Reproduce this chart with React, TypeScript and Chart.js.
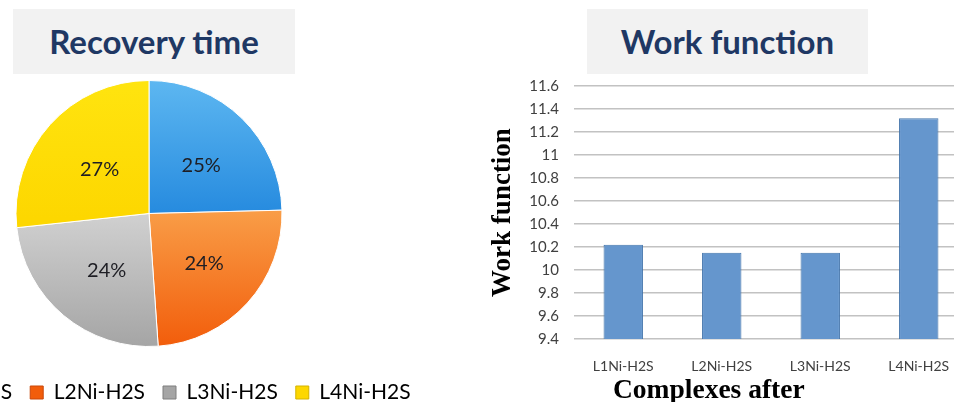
import React, { useEffect, useRef } from "react";
import { Chart, registerables } from "chart.js";

Chart.register(...registerables);

// ---- data ----
const pieLabels = ["L1Ni-H2S", "L2Ni-H2S", "L3Ni-H2S", "L4Ni-H2S"];
const recoveryShare = [24.6, 24.3, 24.4, 26.7];

const barCategories = ["L1Ni-H2S", "L2Ni-H2S", "L3Ni-H2S", "L4Ni-H2S"];
const workFunction = [10.22, 10.15, 10.15, 11.32];
const workTicks = [9.4, 9.6, 9.8, 10, 10.2, 10.4, 10.6, 10.8, 11, 11.2, 11.4, 11.6];

const pieTitle = "Recovery time";
const barTitle = "Work function";
const yAxisTitle = "Work function";
const xAxisTitle = "Complexes after";

// ---- styles ----
const sliceTop = ["#5db7f1", "#f99e48", "#d2d2d2", "#ffe40f"];
const sliceBottom = ["#2489de", "#f25d0b", "#a5a5a5", "#fdd700"];
const sliceEdge = ["#1f6fb5", "#c9480a", "#7f7f7f", "#d4b300"];
const PIE_R = 133;

const sliceFill = (c: any) => {
  const i = c.dataIndex ?? 0;
  const chart = c.chart;
  const area = chart.chartArea;
  if (!area) return sliceBottom[i];
  const cy = (area.top + area.bottom) / 2;
  const total = recoveryShare.reduce((a, b) => a + b, 0);
  let cum = 0;
  for (let k = 0; k < i; k++) cum += recoveryShare[k];
  const mid = ((cum + recoveryShare[i] / 2) / total) * Math.PI * 2;
  const upper = Math.cos(mid) > 0;
  const y0 = upper ? cy - PIE_R : cy - 5;
  const y1 = upper ? cy + 5 : cy + PIE_R;
  const g = chart.ctx.createLinearGradient(0, y0, 0, y1);
  g.addColorStop(0, sliceTop[i]);
  g.addColorStop(1, sliceBottom[i]);
  return g;
};

const pieLabelPlugin = {
  id: "pieValueLabels",
  afterDatasetsDraw(chart: any) {
    const { ctx } = chart;
    const meta = chart.getDatasetMeta(0);
    const data = chart.data.datasets[0].data as number[];
    const total = data.reduce((a, b) => a + b, 0);
    ctx.save();
    ctx.font = "20px Lato";
    ctx.fillStyle = "#1e1e24";
    ctx.textAlign = "center";
    ctx.textBaseline = "middle";
    meta.data.forEach((arc: any, i: number) => {
      const p = arc.getProps(["x", "y", "startAngle", "endAngle", "outerRadius"], true);
      const mid = (p.startAngle + p.endAngle) / 2;
      const r = p.outerRadius * 0.53;
      ctx.fillText(
        Math.round((data[i] / total) * 100) + "%",
        p.x + Math.cos(mid) * r + 3,
        p.y + Math.sin(mid) * r + 3
      );
    });
    ctx.restore();
  },
};

export default function App() {
  const pieRef = useRef<HTMLCanvasElement>(null);
  const barRef = useRef<HTMLCanvasElement>(null);

  useEffect(() => {
    const pie = new Chart(pieRef.current!, {
      type: "pie",
      data: {
        labels: pieLabels,
        datasets: [
          {
            data: recoveryShare,
            backgroundColor: sliceFill as any,
            borderColor: "#ffffff",
            borderWidth: 1,
          },
        ],
      },
      options: {
        responsive: false,
        animation: false,
        radius: PIE_R,
        layout: { padding: { top: 63, bottom: 0, left: 0, right: 0 } },
        scales: {
          spacer: {
            type: "linear",
            position: "right",
            display: true,
            ticks: { display: false },
            grid: { display: false },
            border: { display: false },
            afterFit: (s: any) => {
              s.width = 10;
            },
          },
        },
        plugins: {
          tooltip: { enabled: false },
          legend: {
            position: "bottom",
            labels: {
              boxWidth: 13,
              boxHeight: 13,
              padding: 18,
              color: "#404040",
              font: { family: "Lato", size: 21 },
              generateLabels: () =>
                pieLabels.map((t, i) => ({
                  text: t,
                  fillStyle: sliceBottom[i],
                  strokeStyle: sliceEdge[i],
                  lineWidth: 1,
                  hidden: false,
                  index: i,
                })),
            },
          },
        },
      } as any,
      plugins: [pieLabelPlugin],
    });

    const bar = new Chart(barRef.current!, {
      type: "bar",
      data: {
        labels: barCategories,
        datasets: [
          {
            data: workFunction,
            backgroundColor: "#6596cd",
            borderColor: "#4274ab",
            borderWidth: 1,
            borderSkipped: false,
            barPercentage: 0.4,
            categoryPercentage: 1,
          },
        ],
      },
      options: {
        responsive: false,
        animation: false,
        layout: { padding: { top: 86, left: 0, right: 0, bottom: 0 } },
        plugins: { legend: { display: false }, tooltip: { enabled: false } },
        scales: {
          x: {
            grid: { display: false },
            border: { display: false },
            ticks: { color: "#404040", font: { family: "Lato", size: 14 }, padding: 11 },
            afterFit: (s: any) => {
              s.height = 63;
            },
          },
          y: {
            min: workTicks[0],
            max: workTicks[workTicks.length - 1],
            afterBuildTicks: (s: any) => {
              s.ticks = workTicks.map((v) => ({ value: v }));
            },
            ticks: {
              color: "#404040",
              font: { family: "Lato", size: 15 },
              padding: 15,
              callback: (v: any) => String(Number(Number(v).toFixed(1))),
            },
            grid: { color: "#c2c2c2", lineWidth: 1.5, drawTicks: false },
            border: { display: false },
            title: {
              display: true,
              text: yAxisTitle,
              color: "#000000",
              font: { family: "Liberation Serif", size: 27, weight: "bold" },
              padding: 0,
            },
            afterFit: (s: any) => {
              s.width = 87;
            },
          },
        },
      } as any,
    });

    return () => {
      pie.destroy();
      bar.destroy();
    };
  }, []);

  const titleBox: React.CSSProperties = {
    position: "absolute",
    top: 9,
    height: 65,
    background: "#f2f2f2",
    display: "flex",
    alignItems: "center",
    justifyContent: "center",
    fontFamily: "Lato",
    fontWeight: 700,
    fontSize: 33,
    color: "#1f3864",
    lineHeight: 1,
  };

  return (
    <div
      style={{
        position: "fixed",
        left: 0,
        top: 0,
        width: 954,
        height: 402,
        overflow: "hidden",
        background: "#ffffff",
      }}
    >
      <canvas
        ref={pieRef}
        width={640}
        height={413}
        style={{ position: "absolute", left: -166, top: 0 }}
      />
      <canvas
        ref={barRef}
        width={481}
        height={402}
        style={{ position: "absolute", left: 487, top: 0 }}
      />
      <div style={{ ...titleBox, left: 13, width: 282 }}>{pieTitle}</div>
      <div style={{ ...titleBox, left: 587, width: 281 }}>{barTitle}</div>
      <div
        style={{
          position: "absolute",
          left: 613,
          top: 375,
          fontFamily: "Liberation Serif",
          fontWeight: 700,
          fontSize: 27.5,
          lineHeight: "27px",
          color: "#000000",
          whiteSpace: "nowrap",
        }}
      >
        {xAxisTitle}
      </div>
    </div>
  );
}
